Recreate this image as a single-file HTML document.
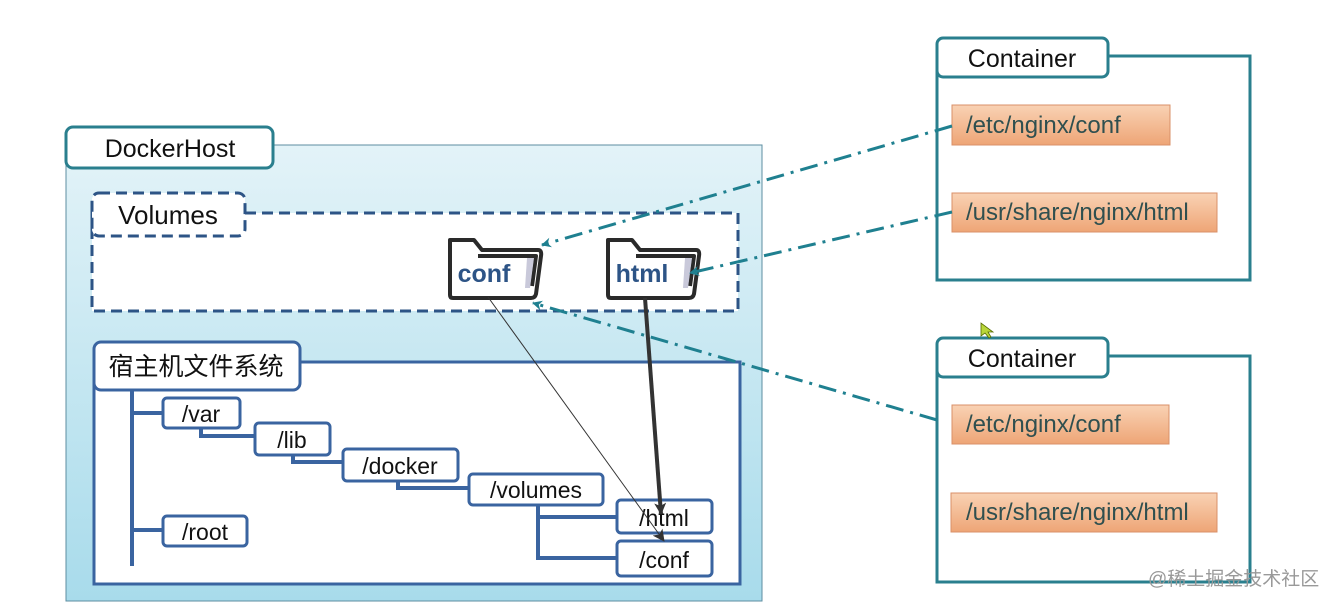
<!DOCTYPE html>
<html><head><meta charset="utf-8"><style>
html,body{margin:0;padding:0;background:#fff;width:1328px;height:607px;overflow:hidden}
svg{display:block}
text{font-family:"Liberation Sans","Noto Sans CJK SC",sans-serif}
</style></head><body>
<svg width="1328" height="607" viewBox="0 0 1328 607" xmlns="http://www.w3.org/2000/svg">
<defs>
<linearGradient id="bg" x1="0" y1="0" x2="0" y2="1">
<stop offset="0" stop-color="#e3f3f8"/><stop offset="1" stop-color="#a8dbeb"/>
</linearGradient>
<linearGradient id="or" x1="0" y1="0" x2="0" y2="1">
<stop offset="0" stop-color="#f9d2b4"/><stop offset="1" stop-color="#eea576"/>
</linearGradient>
<marker id="ta" markerWidth="10" markerHeight="10" refX="9" refY="5" orient="auto" markerUnits="userSpaceOnUse"><path d="M0,0 L10,5 L0,10 L3,5z" fill="#1f8090"/></marker>
<marker id="ba" markerWidth="12" markerHeight="12" refX="11" refY="6" orient="auto" markerUnits="userSpaceOnUse"><path d="M0,0 L12,6 L0,12 L3,6z" fill="#333"/></marker>
</defs>
<rect width="1328" height="607" fill="#fff"/>
<rect x="66" y="145" width="696" height="456" fill="url(#bg)" stroke="#5d8ea0" stroke-width="1"/>
<rect x="66" y="127" width="207" height="41" rx="7" fill="#fff" stroke="#2a7f8e" stroke-width="3"/>
<text x="170" y="157" font-size="25" text-anchor="middle" fill="#111">DockerHost</text>
<rect x="92" y="213" width="646" height="98" fill="#fff" stroke="#2d5486" stroke-width="3" stroke-dasharray="11,6"/>
<rect x="92" y="193" width="153" height="43" rx="7" fill="#fff" stroke="#2d5486" stroke-width="3" stroke-dasharray="11,6"/>
<text x="168" y="224" font-size="26" text-anchor="middle" fill="#111">Volumes</text>
<g stroke="#2a2a2a" stroke-width="4" stroke-linejoin="round">
<path d="M450,240 h24 l8,10 h56 q4,0 3,6 l-5,38 q-1,4 -5,4 h-78 q-3,0 -3,-3z" fill="#fff"/>
<path d="M478,256 h58 l-4,30" fill="none"/>
<path d="M608,240 h24 l8,10 h56 q4,0 3,6 l-5,38 q-1,4 -5,4 h-78 q-3,0 -3,-3z" fill="#fff"/>
<path d="M636,256 h58 l-4,30" fill="none"/>
</g>
<path d="M527,258 h7 l-4,30 h-5z" fill="#c9c9da"/>
<path d="M685,258 h7 l-4,30 h-5z" fill="#c9c9da"/>
<text x="484" y="282" font-size="25" font-weight="bold" text-anchor="middle" fill="#2d5486">conf</text>
<text x="642" y="282" font-size="25" font-weight="bold" text-anchor="middle" fill="#2d5486">html</text>
<rect x="94" y="362" width="646" height="222" fill="#fff" stroke="#3a64a0" stroke-width="3"/>
<rect x="94" y="342" width="206" height="48" rx="7" fill="#fff" stroke="#3a64a0" stroke-width="3"/>
<text x="196" y="375" font-size="25" text-anchor="middle" fill="#111">宿主机文件系统</text>
<g stroke="#3a64a0" stroke-width="4" fill="none">
<path d="M132,390 V566"/><path d="M132,413 H163"/><path d="M132,530 H163"/>
<path d="M201,428 V436 H255"/><path d="M293,455 V462 H343"/><path d="M398,481 V488 H469"/>
<path d="M538,505 V558 H617"/><path d="M538,517 H617"/>
</g>
<g fill="#fff" stroke="#3a64a0" stroke-width="3">
<rect x="163" y="398" width="77" height="30" rx="4"/>
<rect x="255" y="423" width="75" height="32" rx="4"/>
<rect x="343" y="449" width="115" height="32" rx="4"/>
<rect x="469" y="474" width="134" height="31" rx="4"/>
<rect x="617" y="500" width="95" height="33" rx="4"/>
<rect x="617" y="541" width="95" height="35" rx="4"/>
<rect x="163" y="516" width="84" height="30" rx="4"/>
</g>
<g font-size="23" fill="#111" text-anchor="middle">
<text x="201" y="422">/var</text><text x="292" y="448">/lib</text><text x="400" y="474">/docker</text>
<text x="536" y="498">/volumes</text><text x="664" y="526">/html</text><text x="664" y="568">/conf</text>
<text x="205" y="540">/root</text>
</g>
<line x1="488" y1="297" x2="664" y2="541" stroke="#333" stroke-width="1" marker-end="url(#ba)"/>
<line x1="645" y1="298" x2="661" y2="514" stroke="#333" stroke-width="4" marker-end="url(#ba)"/>
<g>
<rect x="937" y="56" width="313" height="224" fill="#fff" stroke="#2a7f8e" stroke-width="3"/>
<rect x="937" y="38" width="171" height="39" rx="6" fill="#fff" stroke="#2a7f8e" stroke-width="3"/>
<text x="1022" y="67" font-size="25" text-anchor="middle" fill="#111">Container</text>
<rect x="952" y="105" width="218" height="40" fill="url(#or)" stroke="#d99068" stroke-width="1"/>
<text x="966" y="133" font-size="24" fill="#2f4f4f">/etc/nginx/conf</text>
<rect x="952" y="193" width="265" height="39" fill="url(#or)" stroke="#d99068" stroke-width="1"/>
<text x="966" y="220" font-size="24" fill="#2f4f4f">/usr/share/nginx/html</text>
</g>
<g>
<rect x="937" y="356" width="313" height="226" fill="#fff" stroke="#2a7f8e" stroke-width="3"/>
<rect x="937" y="338" width="171" height="39" rx="6" fill="#fff" stroke="#2a7f8e" stroke-width="3"/>
<text x="1022" y="367" font-size="25" text-anchor="middle" fill="#111">Container</text>
<rect x="952" y="405" width="217" height="39" fill="url(#or)" stroke="#d99068" stroke-width="1"/>
<text x="966" y="432" font-size="24" fill="#2f4f4f">/etc/nginx/conf</text>
<rect x="951" y="493" width="266" height="39" fill="url(#or)" stroke="#d99068" stroke-width="1"/>
<text x="966" y="520" font-size="24" fill="#2f4f4f">/usr/share/nginx/html</text>
</g>
<g stroke="#1f8090" stroke-width="3" fill="none" stroke-dasharray="18,7,3,7">
<line x1="952" y1="126" x2="542" y2="245" marker-end="url(#ta)"/>
<line x1="952" y1="212" x2="690" y2="273" marker-end="url(#ta)"/>
<line x1="937" y1="420" x2="533" y2="303" marker-end="url(#ta)"/>
</g>
<path d="M981,323 l0,13 l4,-3 l4,5 l2,-1 l-3,-5 l5,0z" fill="#b9d63a" stroke="#556b00" stroke-width="0.8"/>
<text x="1148" y="585" font-size="19" fill="#999">@稀土掘金技术社区</text>
</svg>
</body></html>
